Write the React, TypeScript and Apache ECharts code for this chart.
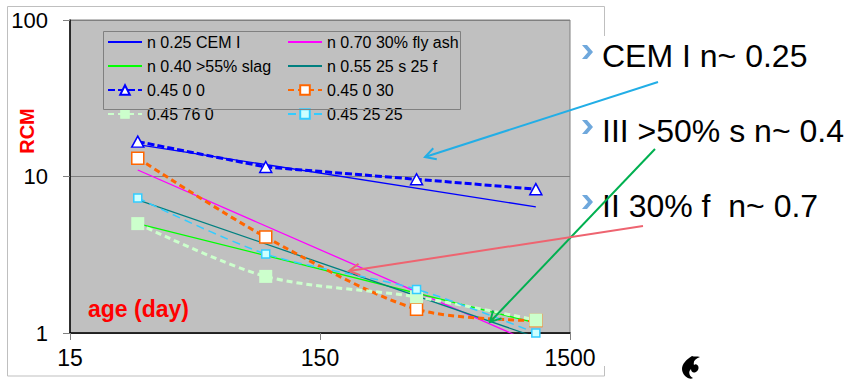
import React, { useEffect, useRef } from 'react';
import * as echarts from 'echarts';

// ---- data ----
const fitDays = [28, 1095];
const testDays = [28, 91, 365, 1095];
const cemI = [16.0, 6.4];
const flyAsh = [11.0, 0.85];
const slag = [5.0, 1.16];
const slagFly = [7.1, 0.94];
const mix45_0_0 = [16.7, 11.5, 9.6, 8.3];
const mix45_0_30 = [13.1, 4.1, 1.42, 1.2];
const mix45_76_0 = [5.0, 2.3, 1.7, 1.21];
const mix45_25_25 = [7.3, 3.2, 1.9, 1.0];
const xTicks = [15, 150, 1500];
const seriesNames = [
  'n 0.25 CEM I',
  'n 0.70 30% fly ash',
  'n 0.40 >55% slag',
  'n 0.55 25 s 25 f',
  '0.45 0 0',
  '0.45 0 30',
  '0.45 76 0',
  '0.45 25 25',
];
const notes = ['CEM I n~ 0.25', 'III >50% s n~ 0.4', 'II 30% f  n~ 0.7'];

const FONT = '"Liberation Sans", Arial, sans-serif';

const pair = (xs: number[], ys: number[]) => xs.map((x, i) => [x, ys[i]]);

function arrow(x1: number, y1: number, x2: number, y2: number, color: string) {
  const ang = Math.atan2(y2 - y1, x2 - x1);
  const L = 12;
  const a = 0.5;
  const p1 = [x2 - L * Math.cos(ang - a), y2 - L * Math.sin(ang - a)];
  const p2 = [x2 - L * Math.cos(ang + a), y2 - L * Math.sin(ang + a)];
  return [
    { type: 'line', z: 200, shape: { x1, y1, x2, y2 }, style: { stroke: color, lineWidth: 2 } },
    { type: 'polyline', z: 200, shape: { points: [p1, [x2, y2], p2] }, style: { stroke: color, lineWidth: 2, fill: null } },
  ];
}

echarts.graphic.registerShape(
  'flameLogo',
  echarts.graphic.extendPath(
    'M14 0 C6 5 2 11 5 17 C7 21 12 24 15 22 C11 20 10 16 13 13 C13 17 17 18 20 14 C22 10 18 7 16 9 C15 5 17 3 22 1 C19 0 16 1 14 0 Z',
    {},
  ) as any,
);

export default function App() {
  const ref = useRef<HTMLDivElement>(null);
  useEffect(() => {
    if (!ref.current) return;
    const chart = echarts.init(ref.current, null, { renderer: 'svg' });
    const fit = (name: string, ys: number[], color: string) => ({
      name,
      type: 'line',
      data: pair(fitDays, ys),
      symbol: 'none',
      z: 2,
      lineStyle: { color, width: 1.3 },
      itemStyle: { color },
    });
    const legendText = { fontSize: 16, color: '#000', fontFamily: FONT, lineHeight: 12 };
    const lineOnly = (name: string) => ({ name, itemStyle: { opacity: 0 } });
    const legendCommon = {
      orient: 'vertical',
      top: 34,
      padding: 0,
      itemWidth: 34,
      itemHeight: 12,
      itemGap: 8,
      selectedMode: false,
      textStyle: legendText,
    };
    const option: any = {
      animation: false,
      backgroundColor: '#FFFFFF',
      grid: {
        left: 70,
        top: 20,
        right: 277,
        bottom: 46,
        show: true,
        backgroundColor: '#C0C0C0',
        borderColor: '#808080',
        borderWidth: 1,
      },
      xAxis: {
        type: 'log',
        logBase: 10,
        min: 15,
        max: 1500,
        axisLine: { lineStyle: { color: '#000', width: 1.5 } },
        axisTick: { show: true, length: 7, customValues: xTicks, lineStyle: { color: '#808080' } },
        axisLabel: {
          customValues: xTicks,
          formatter: (v: number) => String(Math.round(v)),
          fontSize: 23,
          color: '#000',
          fontFamily: FONT,
          margin: 13,
          showMinLabel: true,
          showMaxLabel: true,
        },
        splitLine: { show: false },
        minorTick: { show: false },
      },
      yAxis: {
        type: 'log',
        logBase: 10,
        min: 1,
        max: 100,
        axisLine: { show: true, lineStyle: { color: '#000', width: 1.5 } },
        axisTick: { show: true, length: 7, lineStyle: { color: '#808080' } },
        axisLabel: { fontSize: 22, color: '#000', fontFamily: FONT, margin: 22 },
        splitLine: { show: true, lineStyle: { color: '#808080', width: 1 } },
      },
      legend: [
        {
          ...legendCommon,
          left: 107,
          data: [lineOnly(seriesNames[0]), lineOnly(seriesNames[2]), seriesNames[4], seriesNames[6]],
        },
        {
          ...legendCommon,
          left: 287,
          data: [lineOnly(seriesNames[1]), lineOnly(seriesNames[3]), seriesNames[5], seriesNames[7]],
        },
      ],
      series: [
        fit(seriesNames[0], cemI, '#0000FF'),
        fit(seriesNames[1], flyAsh, '#FF00FF'),
        fit(seriesNames[2], slag, '#00FF00'),
        fit(seriesNames[3], slagFly, '#008080'),
        {
          name: seriesNames[4],
          type: 'line',
          data: pair(testDays, mix45_0_0),
          symbol: 'triangle',
          symbolSize: [12, 11],
          z: 4,
          lineStyle: { color: '#0000FF', width: 3, type: [7, 3] },
          itemStyle: { color: '#FFFFFF', borderColor: '#0000FF', borderWidth: 1.5 },
        },
        {
          name: seriesNames[5],
          type: 'line',
          data: pair(testDays, mix45_0_30),
          smooth: 0.3,
          symbol: 'rect',
          symbolSize: 12,
          z: 3,
          lineStyle: { color: '#FF6600', width: 3, type: [6, 4] },
          itemStyle: { color: '#FFFFFF', borderColor: '#FF6600', borderWidth: 1.5 },
        },
        {
          name: seriesNames[6],
          type: 'line',
          data: pair(testDays, mix45_76_0),
          smooth: 0.3,
          symbol: 'rect',
          symbolSize: 13,
          z: 3,
          lineStyle: { color: '#CCFFCC', width: 3, type: [6, 4] },
          itemStyle: { color: '#CCFFCC' },
        },
        {
          name: seriesNames[7],
          type: 'line',
          data: pair(testDays, mix45_25_25),
          smooth: 0.3,
          symbol: 'rect',
          symbolSize: 8,
          z: 4,
          lineStyle: { color: '#33CCFF', width: 1.5, type: [8, 5] },
          itemStyle: { color: '#CCFFFF', borderColor: '#33CCFF', borderWidth: 1.5 },
        },
      ],
      graphic: [
        {
          type: 'rect',
          z: -5,
          silent: true,
          shape: { x: 7.5, y: 6.5, width: 597, height: 369.5 },
          style: { fill: 'none', stroke: '#BFBFBF', lineWidth: 1 },
        },
        {
          type: 'rect',
          z: 50,
          silent: true,
          shape: { x: 599, y: 36, width: 248, height: 330 },
          style: { fill: '#FFFFFF' },
        },
        {
          type: 'rect',
          z: 50,
          silent: true,
          shape: { x: 103.5, y: 31.5, width: 357, height: 78 },
          style: { fill: 'none', stroke: '#808080', lineWidth: 1 },
        },
        {
          type: 'text',
          z: 60,
          x: 27,
          y: 131,
          rotation: Math.PI / 2,
          style: {
            text: 'RCM',
            fill: '#FF0000',
            font: `bold 20px ${FONT}`,
            align: 'center',
            verticalAlign: 'middle',
          },
        },
        {
          type: 'text',
          z: 60,
          x: 88,
          y: 309,
          style: {
            text: 'age (day)',
            fill: '#FF0000',
            font: `bold 23px ${FONT}`,
            align: 'left',
            verticalAlign: 'middle',
          },
        },
        ...notes.flatMap((t, i) => {
          const cy = [56, 131, 206][i];
          const by = cy - 4;
          return [
            {
              type: 'polygon',
              z: 60,
              silent: true,
              shape: {
                points: [
                  [582, by - 7],
                  [587, by - 7],
                  [593, by],
                  [587, by + 7],
                  [582, by + 7],
                  [588, by],
                ],
              },
              style: { fill: '#6FA8DC' },
            },
            {
              type: 'text',
              z: 60,
              x: 602,
              y: cy,
              style: {
                text: t,
                fill: '#000000',
                font: `32px ${FONT}`,
                align: 'left',
                verticalAlign: 'middle',
              },
            },
          ];
        }),
        ...arrow(658, 82, 425, 157, '#22AEE6'),
        ...arrow(655, 149, 490, 322, '#00B050'),
        ...arrow(643, 226, 349, 271, '#EE6470'),
        {
          type: 'flameLogo',
          z: 60,
          x: 678,
          y: 356,
          scaleX: 1.0,
          scaleY: 1.0,
          style: { fill: '#000000' },
        },
      ],
    };
    chart.setOption(option);
    return () => chart.dispose();
  }, []);
  return (
    <div
      ref={ref}
      style={{ position: 'fixed', left: 0, top: 0, width: 847, height: 379 }}
    />
  );
}
